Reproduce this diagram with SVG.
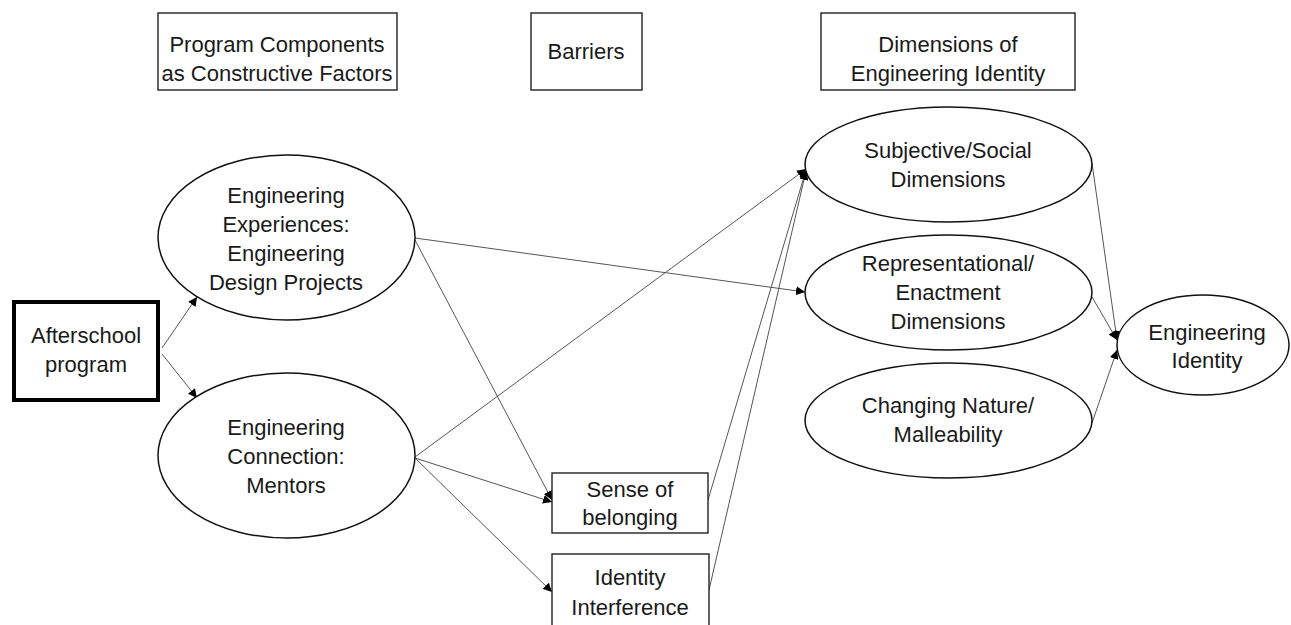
<svg xmlns="http://www.w3.org/2000/svg" width="1291" height="625" viewBox="0 0 1291 625">
<defs>
<style>
text{font-family:"Liberation Sans",Arial,sans-serif;font-size:22px;fill:#1a1a1a;text-anchor:middle}
.hdr{fill:#fff;stroke:#222;stroke-width:1.4}
.box{fill:#fff;stroke:#222;stroke-width:1.4}
.ell{fill:#fff;stroke:#111;stroke-width:1.5}
.con line{stroke:#555;stroke-width:1}
</style>
<marker id="ah" viewBox="0 0 10 10" refX="10" refY="5" markerWidth="9" markerHeight="9" markerUnits="userSpaceOnUse" orient="auto">
<path d="M0,0 L10,5 L0,10 z" fill="#000"/>
</marker>
</defs>
<rect width="1291" height="625" fill="#fff"/>
<g id="hdr-program">
<rect class="hdr" x="158" y="13" width="239" height="77"/>
<text x="277" y="52">Program Components</text>
<text x="277" y="81">as Constructive Factors</text>
</g>
<g id="hdr-barriers">
<rect class="hdr" x="531" y="13" width="111" height="77"/>
<text x="586" y="59">Barriers</text>
</g>
<g id="hdr-dimensions">
<rect class="hdr" x="821" y="13" width="254" height="77"/>
<text x="948" y="52">Dimensions of</text>
<text x="948" y="81">Engineering Identity</text>
</g>
<g id="connectors" class="con">
<line x1="162" y1="348" x2="197" y2="297" marker-end="url(#ah)"/>
<line x1="162" y1="354" x2="197" y2="398" marker-end="url(#ah)"/>
<line x1="415" y1="238" x2="805" y2="292" marker-end="url(#ah)"/>
<line x1="415" y1="240" x2="552" y2="500" marker-end="url(#ah)"/>
<line x1="415" y1="457" x2="806" y2="169" marker-end="url(#ah)"/>
<line x1="415" y1="458" x2="552" y2="502" marker-end="url(#ah)"/>
<line x1="415" y1="458" x2="552" y2="592" marker-end="url(#ah)"/>
<line x1="708" y1="500" x2="806" y2="170" marker-end="url(#ah)"/>
<line x1="709" y1="590" x2="806" y2="171" marker-end="url(#ah)"/>
<line x1="1092" y1="163" x2="1117" y2="340" marker-end="url(#ah)"/>
<line x1="1092" y1="297" x2="1117" y2="340" marker-end="url(#ah)"/>
<line x1="1092" y1="423" x2="1117" y2="350" marker-end="url(#ah)"/>
</g>
<g id="afterschool">
<rect x="14" y="302" width="144" height="98" fill="#fff" stroke="#000" stroke-width="4"/>
<text x="86" y="343">Afterschool</text>
<text x="86" y="372">program</text>
</g>
<g id="experiences">
<ellipse class="ell" cx="286.5" cy="237.5" rx="128.5" ry="82.5"/>
<text x="286" y="203">Engineering</text>
<text x="286" y="232">Experiences:</text>
<text x="286" y="261">Engineering</text>
<text x="286" y="290">Design Projects</text>
</g>
<g id="connection">
<ellipse class="ell" cx="286.5" cy="455.5" rx="128.5" ry="82.5"/>
<text x="286" y="435">Engineering</text>
<text x="286" y="464">Connection:</text>
<text x="286" y="493">Mentors</text>
</g>
<g id="belonging">
<rect class="box" x="552" y="473" width="156" height="60"/>
<text x="630" y="497">Sense of</text>
<text x="630" y="525">belonging</text>
</g>
<g id="interference">
<rect class="box" x="552" y="554" width="157" height="74"/>
<text x="630" y="585">Identity</text>
<text x="630" y="615">Interference</text>
</g>
<g id="subjective">
<ellipse class="ell" cx="948.5" cy="164.5" rx="143.5" ry="57.5"/>
<text x="948" y="158">Subjective/Social</text>
<text x="948" y="187">Dimensions</text>
</g>
<g id="representational">
<ellipse class="ell" cx="948.5" cy="292.5" rx="143.5" ry="57.5"/>
<text x="948" y="271">Representational/</text>
<text x="948" y="300">Enactment</text>
<text x="948" y="329">Dimensions</text>
</g>
<g id="changing">
<ellipse class="ell" cx="948.5" cy="420.5" rx="143.5" ry="57.5"/>
<text x="948" y="413">Changing Nature/</text>
<text x="948" y="442">Malleability</text>
</g>
<g id="identity">
<ellipse class="ell" cx="1203" cy="345" rx="86" ry="50"/>
<text x="1207" y="340">Engineering</text>
<text x="1207" y="368">Identity</text>
</g>
</svg>
